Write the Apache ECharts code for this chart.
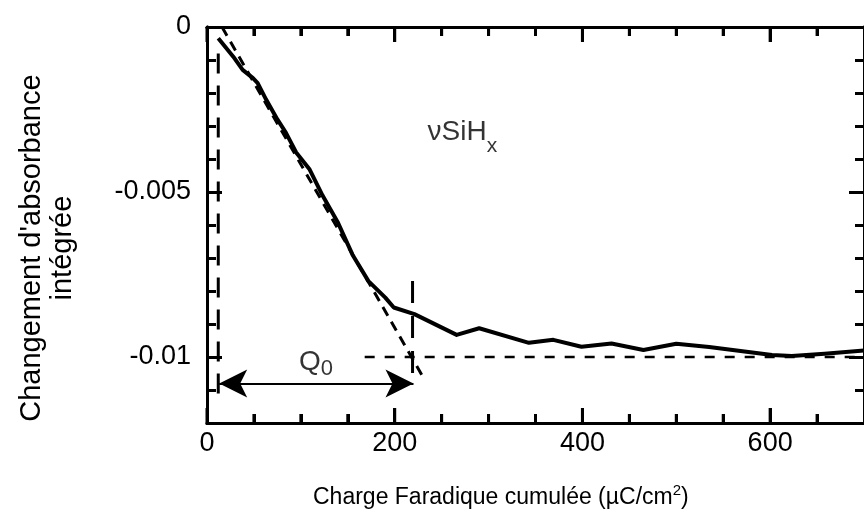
<!DOCTYPE html>
<html>
<head>
<meta charset="utf-8">
<script src="https://cdn.jsdelivr.net/npm/echarts@6/dist/echarts.min.js"></script>
<style>
html,body{margin:0;padding:0;background:#fff;}
#chart{width:864px;height:526px;}
</style>
</head>
<body>
<div id="chart"></div>
<script>
// ---- data ----
const chargeX = [12, 28, 38, 49, 54, 63, 75, 84, 95, 109, 123, 139, 155, 172, 190, 199, 221, 266, 290, 343, 369, 399, 431, 465, 500, 535, 602, 623, 658, 700];
const absorbY = [-0.00034, -0.0009, -0.0013, -0.00155, -0.0017, -0.0022, -0.0028, -0.0032, -0.0038, -0.0043, -0.0051, -0.0059, -0.0069, -0.0077, -0.0082, -0.0085, -0.0087, -0.00933, -0.00913, -0.00957, -0.00948, -0.00969, -0.00959, -0.00979, -0.0096, -0.0097, -0.00994, -0.00997, -0.0099, -0.0098];
const tangentX = [16, 232];
const tangentY = [0, -0.0107];
const plateauX = [168, 700];
const plateauY = [-0.01, -0.01];
const startMarkX = [12, 12];
const startMarkY = [-0.0008, -0.0113];
const endMarkX = [219, 219];
const endMarkY = [-0.0077, -0.0108];
const arrowX = [13, 220];
const arrowY = -0.0108;
const xMajorTicks = [0, 200, 400, 600];
const xMinorTicks = [50, 100, 150, 250, 300, 350, 450, 500, 550, 650];
const yMajorTicks = [0, -0.005, -0.01];
const yMinorTicks = [-0.001, -0.002, -0.003, -0.004, -0.006, -0.007, -0.008, -0.009, -0.011];
const xTitle = 'Charge Faradique cumulée (µC/cm{sup|2})';
const yTitle = "Changement d'absorbance\nintégrée";
const labelSiH = {x: 235, y: -0.0032};
const labelQ0 = {x: 98, y: -0.01015};

const FONT = '"Liberation Sans", Arial, Helvetica, sans-serif';
const BLACK = '#000';
const Y_MIN = -0.012, Y_MAX = 0;

function pairs(xs, ys) { return xs.map((x, i) => [x, ys[i]]); }

function xAx(pos, ticks, len, labels) {
  return {
    type: 'value', position: pos, gridIndex: 0, min: 0, max: 700,
    axisLine: {show: true, onZero: false, lineStyle: {color: BLACK, width: 3}},
    axisTick: {show: true, inside: true, length: len, customValues: ticks, lineStyle: {color: BLACK, width: 3}},
    axisLabel: labels ? {show: true, customValues: xMajorTicks, color: BLACK, fontSize: 27, fontFamily: FONT, margin: 7} : {show: false},
    splitLine: {show: false}
  };
}
function yAx(pos, ticks, len, labels, extra) {
  return Object.assign({
    type: 'value', position: pos, gridIndex: 0, min: Y_MIN, max: Y_MAX,
    axisLine: {show: true, onZero: false, lineStyle: {color: BLACK, width: 3}},
    axisTick: {show: true, inside: true, length: len, customValues: ticks, lineStyle: {color: BLACK, width: 3}},
    axisLabel: labels ? {show: true, customValues: yMajorTicks, color: BLACK, fontSize: 27, fontFamily: FONT, margin: 16} : {show: false},
    splitLine: {show: false}
  }, extra || {});
}

const chart = echarts.init(document.getElementById('chart'));
chart.setOption({
  animation: false,
  backgroundColor: '#fff',
  title: {
    text: xTitle, left: 313, top: 483, padding: 0,
    textStyle: {color: BLACK, fontSize: 23, fontWeight: 'normal', fontFamily: FONT,
      rich: {sup: {fontSize: 15, fontFamily: FONT, color: BLACK, padding: [0, 0, 14, 0]}}}
  },
  grid: {left: 207, top: 27, width: 662, height: 396},
  xAxis: [
    xAx('bottom', xMajorTicks, 15, true),
    xAx('bottom', xMinorTicks, 9, false),
    xAx('top', xMajorTicks, 15, false),
    xAx('top', xMinorTicks, 9, false)
  ],
  yAxis: [
    yAx('left', yMajorTicks, 15, true),
    yAx('left', yMinorTicks, 9, false),
    yAx('right', yMajorTicks, 15, false),
    yAx('right', yMinorTicks, 9, false)
  ],
  series: [
    {type: 'line', name: 'curve', data: pairs(chargeX, absorbY), symbol: 'none', z: 5,
      lineStyle: {color: BLACK, width: 4, join: 'round'}},
    {type: 'line', name: 'tangent', data: pairs(tangentX, tangentY), symbol: 'none', z: 4,
      lineStyle: {color: BLACK, width: 3, type: [10, 7]}},
    {type: 'line', name: 'plateau', data: pairs(plateauX, plateauY), symbol: 'none', z: 3,
      lineStyle: {color: BLACK, width: 2.5, type: [10, 10]}},
    {type: 'line', name: 'start', data: pairs(startMarkX, startMarkY), symbol: 'none', z: 3,
      lineStyle: {color: BLACK, width: 3, type: [20, 12]}},
    {type: 'line', name: 'end', data: pairs(endMarkX, endMarkY), symbol: 'none', z: 3,
      lineStyle: {color: BLACK, width: 3, type: [22, 13]},
      markLine: {silent: true, symbol: ['arrow', 'arrow'], symbolSize: [21, 28],
        label: {show: false}, lineStyle: {color: BLACK, width: 2, type: 'solid'},
        data: [[{coord: [arrowX[0], arrowY]}, {coord: [arrowX[1], arrowY]}]]}},
    {type: 'scatter', name: 'texts', symbolSize: 0, z: 6,
      data: [
        {value: [labelSiH.x, labelSiH.y], label: {formatter: 'νSiH{sub|x}'}},
        {value: [labelQ0.x, labelQ0.y], label: {formatter: 'Q{sub0|0}', fontSize: 28, rich: {sub0: {fontSize: 22, color: BLACK, fontFamily: FONT, padding: [14, 0, 0, 0]}}}}
      ],
      label: {show: true, position: [0, 0], align: 'left', verticalAlign: 'middle',
        color: BLACK, fontSize: 28, fontFamily: FONT,
        rich: {sub: {fontSize: 21, color: BLACK, fontFamily: FONT, padding: [28, 0, 0, 0]}}}}
  ]
});

// x-axis tick marks and y-axis title, positioned through the axis scales
const gfx = [];
const tickVals = xMajorTicks.concat(xMinorTicks);
tickVals.forEach((v, i) => {
  const len = i < xMajorTicks.length ? 15 : 9;
  const b = chart.convertToPixel({xAxisIndex: 0, yAxisIndex: 0}, [v, Y_MIN]);
  const t = chart.convertToPixel({xAxisIndex: 0, yAxisIndex: 0}, [v, Y_MAX]);
  gfx.push({type: 'line', z: 50, silent: true, shape: {x1: b[0], y1: b[1], x2: b[0], y2: b[1] - len}, style: {stroke: BLACK, lineWidth: 3}});
  gfx.push({type: 'line', z: 50, silent: true, shape: {x1: t[0], y1: t[1], x2: t[0], y2: t[1] + len}, style: {stroke: BLACK, lineWidth: 3}});
});
const yMid = chart.convertToPixel({yAxisIndex: 0}, (-0.0067));
gfx.push({type: 'text', z: 50, silent: true, x: 47, y: yMid, rotation: Math.PI / 2,
  style: {text: yTitle, fill: BLACK, fontSize: 29, fontFamily: FONT, lineHeight: 31,
    align: 'center', verticalAlign: 'middle'}});
chart.setOption({graphic: gfx});
</script>
</body>
</html>
